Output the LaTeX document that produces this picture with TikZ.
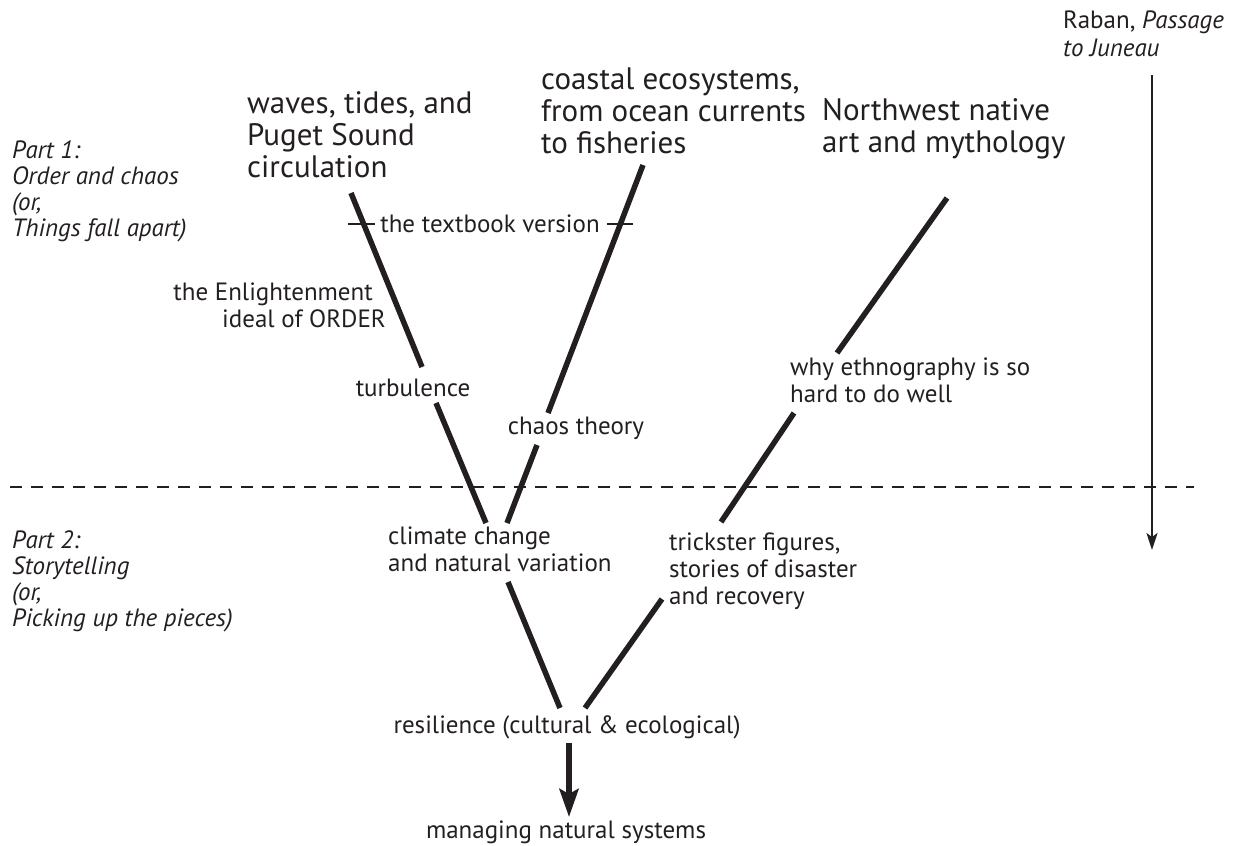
\documentclass[tikz,border=0pt]{standalone}
\usepackage{fontspec}
\setmainfont{PT Sans}
\usetikzlibrary{arrows.meta}
\definecolor{ink}{RGB}{35,31,32}
\begin{document}
\begin{tikzpicture}[x=1pt,y=-1pt,
  every node/.style={inner sep=0pt, text=ink},
  lbl/.style={font=\fontsize{25}{27}\selectfont, align=left},
  big/.style={font=\fontsize{31}{32}\selectfont, align=left},
  part/.style={font=\fontsize{25}{26}\selectfont\itshape, align=left},
  branch/.style={draw=ink, line width=5.5pt},
  tick/.style={draw=ink, line width=1.8pt},
  ]
\useasboundingbox (0,0) rectangle (1235,846);

% texts
\node[part, anchor=north west, font=\fontsize{25}{28}\selectfont\itshape] (raban) at (1063,11) {{\upshape Raban,} Passage\\to Juneau};
\node[part, anchor=north west] (part1) at (12,140) {Part 1:\\Order and chaos\\(or,\\Things fall apart)};
\node[part, anchor=north west] (part2) at (12,530) {Part 2:\\Storytelling\\(or,\\Picking up the pieces)};
\node[big, anchor=north west] (waves) at (247,91) {waves, tides, and\\Puget Sound\\circulation};
\node[big, anchor=north west] (coastal) at (541,68) {coastal ecosystems,\\from ocean currents\\to fisheries};
\node[big, anchor=north west] (nw) at (822,98) {Northwest native\\art and mythology};
\node[lbl] (textbook) at (490,224) {the textbook version};
\node[lbl, align=right, anchor=north east] (enl) at (386,283) {the Enlightenment\hspace*{13pt}\\ideal of ORDER};
\node[lbl] (turb) at (413,388) {turbulence};
\node[lbl] (chaos) at (576,428) {chaos theory};
\node[lbl, anchor=north west] (ethno) at (790,358) {why ethnography is so\\hard to do well};
\node[lbl, anchor=north west] (climate) at (388,527) {climate change\\and natural variation};
\node[lbl, anchor=north west] (trick) at (669,533) {trickster figures,\\stories of disaster\\and recovery};
\node[lbl] (res) at (567,727) {resilience (cultural \& ecological)};
\node[lbl] (manage) at (566,832) {managing natural systems};

% branch end points
\coordinate (w1) at (351,193); \coordinate (w2) at (422,367);
\coordinate (w3) at (436,403); \coordinate (w4) at (486,523);
\coordinate (c1) at (643,165); \coordinate (c2) at (548,413);
\coordinate (c3) at (537,445); \coordinate (c4) at (507,523);
\coordinate (n1) at (947,198); \coordinate (n2) at (837,353);
\coordinate (n3) at (794,413); \coordinate (n4) at (721,522);
\coordinate (m1) at (508,582); \coordinate (m2) at (560,708);
\coordinate (t1) at (662,599); \coordinate (t2) at (585,708);
\coordinate (a1) at (569,743); \coordinate (a2) at (569,817);

\draw[branch] (w1) -- (w2);
\draw[branch] (w3) -- (w4);
\draw[branch] (c1) -- (c2);
\draw[branch] (c3) -- (c4);
\draw[branch] (n1) -- (n2);
\draw[branch] (n3) -- (n4);
\draw[branch] (m1) -- (m2);
\draw[branch] (t1) -- (t2);
\draw[branch, -{Stealth[length=28pt,width=19pt,inset=5pt]}] (a1) -- (a2);

% textbook ticks
\coordinate (k1) at (348,224); \coordinate (k2) at (375,224);
\coordinate (k3) at (607,224); \coordinate (k4) at (633,224);
\draw[tick] (k1) -- (k2);
\draw[tick] (k3) -- (k4);

% divider
\coordinate (d1) at (10,487); \coordinate (d2) at (1194,487);
\draw[draw=ink, line width=2.5pt, dash pattern=on 12pt off 9pt] (d1) -- (d2);

% Raban arrow
\coordinate (r1) at (1152,75); \coordinate (r2) at (1152,550);
\draw[draw=ink, line width=2pt, -{Stealth[length=17pt,width=11pt,inset=4pt]}] (r1) -- (r2);
\end{tikzpicture}
\end{document}
